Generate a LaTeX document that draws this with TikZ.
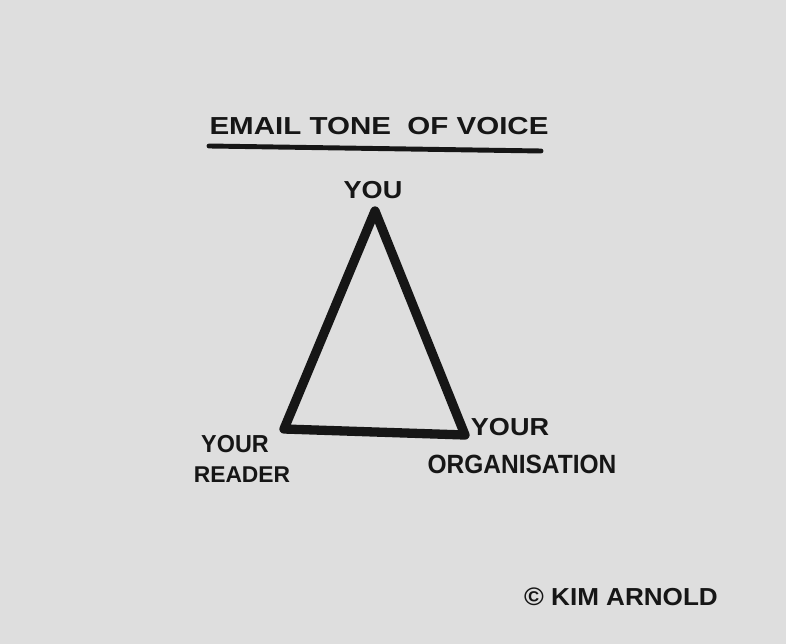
\documentclass[tikz,border=0pt]{standalone}
\usepackage{fontspec}
\setmainfont{Liberation Sans}
\definecolor{paper}{RGB}{222,222,222}
\definecolor{ink}{RGB}{22,22,22}
\begin{document}
\begin{tikzpicture}[x=0.02cm,y=-0.02cm,
  hand/.style={text=ink,inner sep=0pt,font=\bfseries\fontsize{#1}{#1}\selectfont},
  hand/.default=14pt,
  marker/.style={draw=ink,line width=5.3pt,line join=round,line cap=round}]
\fill[paper] (0,0) rectangle (786,644);
\useasboundingbox (0,0) rectangle (786,644);
% title
\node[hand=14pt,xscale=1.2] (title) at (379,126) {EMAIL TONE\ \ OF VOICE};
\coordinate (ulA) at (209,146);
\coordinate (ulB) at (541,151);
\draw[draw=ink,line width=2.8pt,line cap=round] (ulA) -- (ulB);
% triangle
\coordinate (you) at (375,211);
\coordinate (reader) at (284,429);
\coordinate (org) at (465,435);
\draw[marker] (you) -- (reader) -- (org) -- cycle;
% labels
\node[hand=14pt,xscale=1.1] (youlab) at (373,190) {YOU};
\node[hand=14pt,xscale=0.95] (yourA) at (235,444) {YOUR};
\node[hand=13pt,xscale=1.0] (readerlab) at (242,475) {READER};
\node[hand=14pt,xscale=1.1] (yourB) at (510,427) {YOUR};
\node[hand=15pt,xscale=0.93] (orglab) at (522,464) {ORGANISATION};
\node[hand=14pt,xscale=1.06] (credit) at (621,597) {{\Large\textcopyright}\ KIM ARNOLD};
\end{tikzpicture}
\end{document}
